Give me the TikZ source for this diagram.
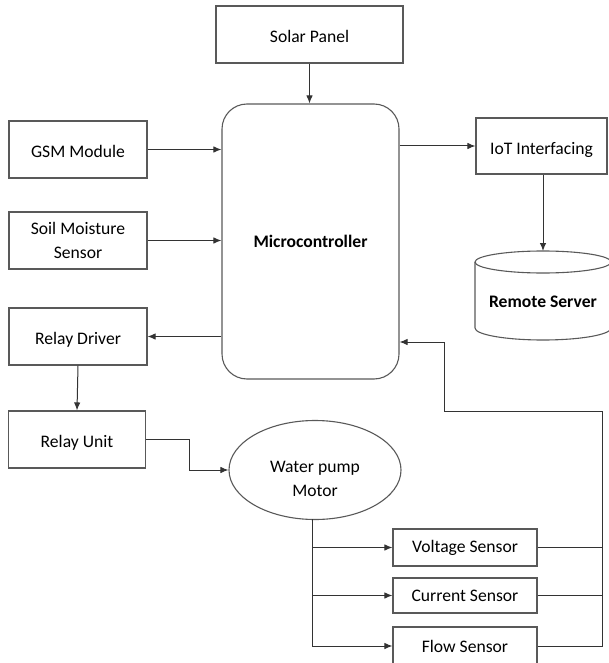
\documentclass[tikz,border=0pt]{standalone}
\usepackage{fontspec}
\setmainfont{Carlito}
\usetikzlibrary{arrows.meta,shapes.geometric}

\tikzset{
  blk/.style={draw=black!65, line width=1.1pt, rectangle, inner sep=0pt,
              align=center, text=black},
  oneline/.style={text height=16pt, text depth=0pt},
  wire/.style={draw=black!80, line width=1pt},
  arr/.style={wire, -{Latex[length=8pt,width=6.5pt]}},
}

\begin{document}
\begin{tikzpicture}[x=1pt, y=-1pt,
  every node/.style={font=\fontsize{17.6}{24.5}\selectfont}]
\useasboundingbox (0,0) rectangle (608,663);

% blocks
\node[blk, oneline, minimum width=187, minimum height=57] (solar) at (309.5,34.5) {Solar Panel};
\node[blk, minimum width=177, minimum height=275, rounded corners=25pt] (mc) at (310.5,241.5) {\bfseries Microcontroller};
\node[blk, oneline, minimum width=138, minimum height=57] (gsm) at (78,149.5) {GSM Module};
\node[blk, minimum width=138, minimum height=57] (soil) at (78,240.5) {Soil Moisture\\Sensor};
\node[blk, oneline, minimum width=138, minimum height=57] (rdrv) at (78,336.5) {Relay Driver};
\node[blk, oneline, minimum width=137, minimum height=57] (runit) at (77,439.5) {Relay Unit};
\node[blk, oneline, minimum width=131, minimum height=56] (iot) at (541.5,146) {IoT Interfacing};

% remote server drawn as a cylinder
\draw[draw=black!65, line width=1.1pt]
  (475,262) -- (475,328) arc[start angle=180, end angle=0, x radius=68, y radius=12] -- (611,262);
\draw[draw=black!65, line width=1.1pt] (543,262) ellipse[x radius=68, y radius=11];
\node[inner sep=0pt, text=black] (server) at (543,302) {\bfseries Remote Server};
\coordinate (srvtop) at (543,251);

% pump motor
\node[draw=black!65, line width=1.1pt, ellipse, minimum width=172, minimum height=99, inner sep=0pt] (pump) at (315,470) {};
\node[align=center, inner sep=0pt, text=black] (pumptxt) at (315,479) {Water pump\\Motor};

% sensors
\node[blk, minimum width=144, minimum height=37] (volt) at (465,547.5) {Voltage Sensor};
\node[blk, minimum width=144, minimum height=35] (curr) at (465,595.5) {Current Sensor};
\node[blk, minimum width=144, minimum height=38] (flow) at (465,646) {Flow Sensor};

% connectors
\draw[arr] (solar.south) -- (solar.south |- mc.north);
\draw[arr] (gsm.east) -- (gsm.east -| mc.west);
\draw[arr] (soil.east) -- (soil.east -| mc.west);
\draw[arr] (mc.west |- rdrv.east) -- (rdrv.east);
\draw[arr] (rdrv.south) -- (runit.north);
\draw[arr] (mc.east |- iot.west) -- (iot.west);
\draw[arr] (iot.south -| srvtop) -- (srvtop);
\draw[arr] (runit.east) -- ++(43,0) |- (pump.west);

% motor to sensors
\coordinate (tap) at (312,519);
\draw[arr] (tap) |- (flow.west);
\draw[arr] (tap |- volt.west) -- (volt.west);
\draw[arr] (tap |- curr.west) -- (curr.west);

% sensor feedback to microcontroller
\coordinate (bus) at (602,411);
\coordinate (fbturn) at (444,342);
\draw[arr] (flow.east) -| (bus) -| (fbturn) -- (fbturn -| mc.east);
\draw[wire] (volt.east) -- (volt.east -| bus);
\draw[wire] (curr.east) -- (curr.east -| bus);
\end{tikzpicture}
\end{document}
